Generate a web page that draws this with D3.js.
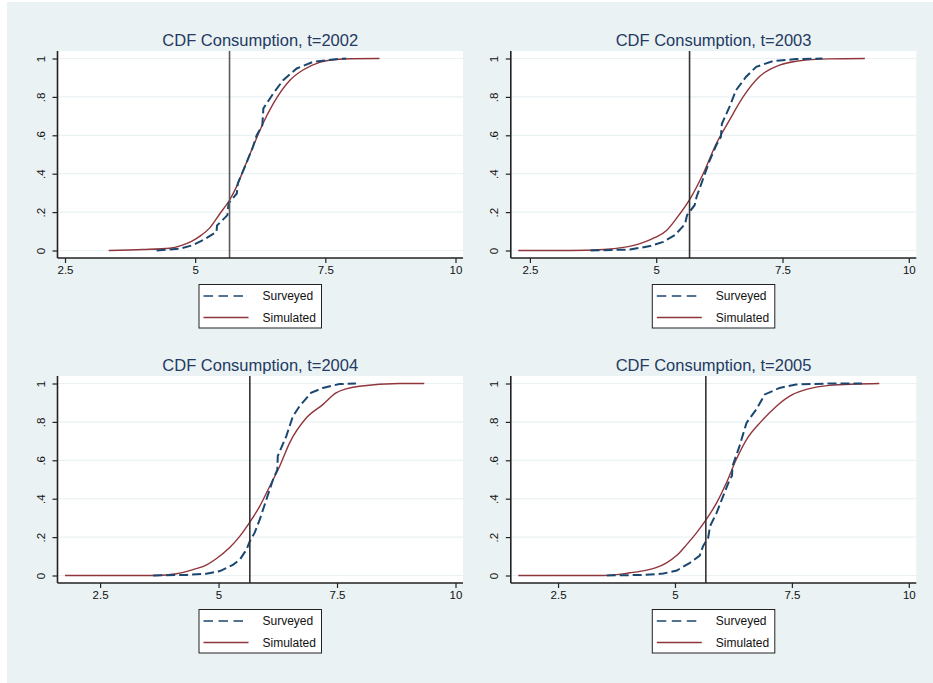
<!DOCTYPE html>
<html>
<head>
<meta charset="utf-8">
<script src="https://cdn.jsdelivr.net/npm/d3@7"></script>
<style>
  body { margin: 0; background: #fff; }
  svg { display: block; }
  text { font-family: "Liberation Sans", Arial, sans-serif; }
</style>
</head>
<body>
<div id="chart"></div>
<script>

// panel titles / years
var years = ["2002", "2003", "2004", "2005"];

// x ticks and y ticks (shared)
var xTicks = [2.5, 5, 7.5, 10];
var yTicks = [0, 0.2, 0.4, 0.6, 0.8, 1];
var yTickLabels = ["0", ".2", ".4", ".6", ".8", "1"];

// vertical reference line
var refLine = 5.66;

// simulated CDF, [consumption, cdf]
var simulated2002 = [[3.34,0],[4.0,0.005],[4.51,0.012],[4.74,0.027],[4.93,0.048],[5.12,0.08],[5.28,0.118],
    [5.47,0.19],[5.67,0.267],[5.79,0.33],[5.95,0.435],[6.11,0.54],[6.30,0.66],[6.50,0.765],[6.82,0.887],
    [7.07,0.94],[7.39,0.98],[7.71,0.995],[8.0,0.999],[8.54,1]];
var simulated2003 = [[2.27,0],[3.30,0],[3.96,0.005],[4.35,0.016],[4.68,0.036],[4.98,0.068],[5.21,0.106],
    [5.40,0.167],[5.67,0.269],[5.93,0.40],[6.19,0.557],[6.45,0.679],[6.72,0.80],[7.04,0.905],[7.44,0.965],
    [7.77,0.986],[8.42,0.998],[9.13,1]];
var simulated2004 = [[1.76,0],[3.69,0],[4.11,0.009],[4.46,0.031],[4.74,0.054],[4.95,0.087],[5.23,0.144],
    [5.45,0.205],[5.66,0.278],[5.87,0.361],[6.08,0.465],[6.29,0.569],[6.50,0.691],[6.85,0.82],[7.20,0.89],
    [7.48,0.951],[7.69,0.972],[7.97,0.986],[8.81,1],[9.34,1]];
var simulated2005 = [[1.65,0],[3.47,0],[4.04,0.014],[4.40,0.028],[4.61,0.042],[4.82,0.066],[5.04,0.105],
    [5.25,0.161],[5.46,0.222],[5.67,0.292],[5.89,0.378],[6.10,0.483],[6.31,0.604],[6.53,0.708],[6.85,0.804],
    [7.17,0.882],[7.52,0.943],[7.81,0.969],[8.30,0.99],[9.37,1]];

// surveyed (empirical) CDF, [consumption, cdf]
var surveyed2002 = [[4.26,0],[4.71,0.01],[4.96,0.028],[5.15,0.054],[5.41,0.097],[5.42,0.13],[5.62,0.184],
    [5.64,0.245],[5.80,0.297],[5.82,0.35],[5.98,0.453],[6.11,0.54],[6.18,0.60],[6.29,0.652],[6.31,0.74],
    [6.50,0.818],[6.69,0.887],[6.95,0.948],[7.26,0.982],[7.65,0.995],[7.90,1]];
var surveyed2003 = [[3.70,0],[4.48,0.005],[4.88,0.023],[5.14,0.045],[5.37,0.08],[5.57,0.137],[5.61,0.184],
    [5.76,0.236],[5.80,0.28],[5.93,0.375],[6.06,0.47],[6.19,0.549],[6.28,0.592],[6.30,0.66],[6.45,0.748],
    [6.58,0.835],[6.78,0.905],[6.98,0.957],[7.31,0.986],[7.77,0.997],[8.29,1]];
var surveyed2004 = [[3.62,0],[4.32,0.003],[4.74,0.009],[5.03,0.023],[5.31,0.057],[5.45,0.083],[5.59,0.135],
    [5.66,0.179],[5.76,0.222],[5.87,0.292],[6.01,0.396],[6.15,0.50],[6.24,0.55],[6.25,0.622],[6.43,0.726],
    [6.57,0.83],[6.71,0.882],[6.95,0.951],[7.20,0.977],[7.55,0.997],[7.90,1]];
var surveyed2005 = [[3.54,0],[4.33,0.003],[4.75,0.01],[5.04,0.026],[5.32,0.066],[5.53,0.104],[5.60,0.153],
    [5.71,0.196],[5.75,0.257],[5.89,0.326],[6.03,0.413],[6.17,0.50],[6.22,0.52],[6.23,0.569],[6.38,0.674],
    [6.53,0.795],[6.74,0.865],[6.92,0.943],[7.24,0.977],[7.59,0.995],[8.30,1],[9.0,1]];

var simulatedSeries = [simulated2002, simulated2003, simulated2004, simulated2005];
var surveyedSeries = [surveyed2002, surveyed2003, surveyed2004, surveyed2005];

var legendLabels = ["Surveyed", "Simulated"];


var width = 933, height = 683;
var bg = "#eaf2f3";
var blue = "#1a476f", red = "#90353b";

var svg = d3.select("#chart").append("svg")
    .attr("width", width)
    .attr("height", height);

// stata-like background
svg.append("rect")
    .attr("x", 7).attr("y", 2)
    .attr("width", width - 7).attr("height", height - 2)
    .attr("fill", bg);

var panelOrigins = [[0, 0], [453.3, 0], [0, 325], [453.3, 325]];

years.forEach(function(year, i) {
    drawPanel(i, year);
});


function drawPanel(i, year) {
    var ox = panelOrigins[i][0], oy = panelOrigins[i][1];
    var left = 57.5, right = 463, top = 51, bottom = 258;
    var pad = 7.5;

    var sim = simulatedSeries[i], sur = surveyedSeries[i];
    var allX = sim.concat(sur).map(d => d[0]).concat(xTicks);

    var x = d3.scaleLinear()
        .domain([d3.min(allX), d3.max(allX)])
        .range([left + pad, right - pad]);

    var y = d3.scaleLinear()
        .domain([0, 1])
        .range([bottom - pad, top + pad]);

    var g = svg.append("g")
        .attr("transform", "translate(" + ox + "," + oy + ")");

    // plot region
    g.append("rect")
        .attr("x", left).attr("y", top)
        .attr("width", right - left).attr("height", bottom - top)
        .attr("fill", "#fff");

    // gridlines
    g.selectAll(".grid")
        .data(yTicks)
        .enter()
        .append("line")
        .attr("class", "grid")
        .attr("x1", left).attr("x2", right)
        .attr("y1", d => y(d)).attr("y2", d => y(d))
        .attr("stroke", bg)
        .attr("stroke-width", 1.2);

    // title
    g.append("text")
        .attr("x", (left + right) / 2)
        .attr("y", top - 5.5)
        .attr("text-anchor", "middle")
        .style("font-size", "16.5px")
        .attr("fill", "#243a63")
        .text("CDF Consumption, t=" + year);

    var smooth = d3.line()
        .curve(d3.curveMonotoneX)
        .x(d => x(d[0]))
        .y(d => y(d[1]));

    var line = d3.line()
        .x(d => x(d[0]))
        .y(d => y(d[1]));

    // simulated
    g.append("path")
        .datum(sim)
        .attr("d", smooth)
        .attr("fill", "none")
        .attr("stroke", red)
        .attr("stroke-width", 1.4);

    // surveyed
    g.append("path")
        .datum(sur)
        .attr("d", line)
        .attr("fill", "none")
        .attr("stroke", blue)
        .attr("stroke-width", 2)
        .attr("stroke-dasharray", "9,4");

    // reference line
    g.append("line")
        .attr("x1", x(refLine)).attr("x2", x(refLine))
        .attr("y1", top).attr("y2", bottom)
        .attr("stroke", i == 0 ? "#5a5a5a" : "#333")
        .attr("stroke-width", 1.6);

    // axes
    var xAxis = d3.axisBottom(x)
        .tickValues(xTicks)
        .tickSize(5)
        .tickPadding(3)
        .tickFormat(d3.format("~g"));

    var xg = g.append("g")
        .attr("transform", "translate(0," + bottom + ")")
        .call(xAxis);
    xg.select(".domain").attr("d", "M" + left + ",0H" + right);

    var yAxis = d3.axisLeft(y)
        .tickValues(yTicks)
        .tickSize(5)
        .tickPadding(4)
        .tickFormat((d, k) => yTickLabels[k]);

    var yg = g.append("g")
        .attr("transform", "translate(" + left + ",0)")
        .call(yAxis);
    yg.select(".domain").attr("d", "M0," + top + "V" + bottom);

    yg.selectAll(".tick text")
        .attr("transform", "rotate(-90)")
        .attr("x", 0)
        .attr("y", -12.5)
        .attr("dy", 0)
        .attr("text-anchor", "middle");

    [xg, yg].forEach(function(a) {
        a.select(".domain").attr("stroke", "#222").attr("stroke-width", 1.6);
        a.selectAll(".tick line").attr("stroke", "#222").attr("stroke-width", 1.2);
        a.selectAll(".tick text")
            .attr("fill", "#111")
            .style("font-size", "11.5px")
            .style("font-family", "Liberation Sans, Arial, sans-serif");
    });

    // legend
    var lw = 122.5, lh = 43.5;
    var lx = (left + right) / 2 - lw / 2, ly = 284.5;
    var lg = g.append("g")
        .attr("transform", "translate(" + lx + "," + ly + ")");

    lg.append("rect")
        .attr("width", lw).attr("height", lh)
        .attr("fill", "#fff")
        .attr("stroke", "#222")
        .attr("stroke-width", 1);

    legendLabels.forEach(function(lab, k) {
        var ry = 11.5 + k * 21.5;
        lg.append("line")
            .attr("x1", 4.5).attr("x2", 49.5)
            .attr("y1", ry).attr("y2", ry)
            .attr("stroke", k == 0 ? blue : red)
            .attr("stroke-width", 1.4)
            .attr("stroke-dasharray", k == 0 ? "9.5,5.5" : null);
        lg.append("text")
            .attr("x", 63.5)
            .attr("y", ry + 4.3)
            .style("font-size", "12px")
            .attr("fill", "#111")
            .text(lab);
    });
}

</script>
</body>
</html>
